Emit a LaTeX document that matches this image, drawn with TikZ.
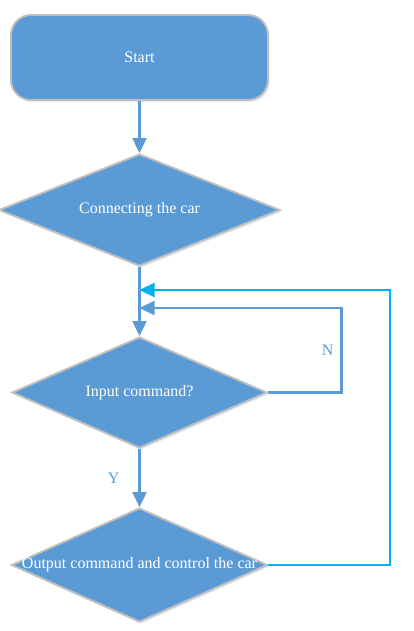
\documentclass[tikz,border=0pt]{standalone}
\usepackage{fontspec}
\setmainfont{Liberation Serif}
\usetikzlibrary{shapes.geometric,arrows.meta,shadows}
\definecolor{boxblue}{HTML}{5B9BD5}
\definecolor{loopcyan}{HTML}{00B0F0}
\definecolor{rimgray}{HTML}{BFBFBF}
\tikzset{
  chart/.style={
    x=1pt,
    y=-1pt,
    every node/.style={
      font=\fontsize{16}{19}\selectfont
    },
  },
  glow/.style={
    drop shadow={shadow xshift=1.5pt, shadow yshift=-2pt, fill=boxblue!25, opacity=.8}
  },
  startbox/.style={
    rectangle, rounded corners=20pt, draw=rimgray, line width=1.9pt, fill=boxblue,
    minimum width=257pt, minimum height=85pt, glow
  },
  decision/.style={
    diamond, draw=rimgray, line width=1.9pt, fill=boxblue, inner sep=0pt, glow
  },
  inside/.style={text=white, inner sep=0pt},
  answer/.style={text=boxblue, inner sep=0pt},
  flow/.style={draw=boxblue, line width=2.2pt, -{Triangle[length=15pt,width=14pt]}},
}

\begin{document}
\begin{tikzpicture}[chart]
\useasboundingbox (0,0) rectangle (413,631);
\node[startbox] (start) at (139.5,57.5) {};
\node[inside] (starttext) at (start) {Start};
\node[decision, minimum width=281pt, minimum height=112pt] (conn) at (139.5,210) {};
\node[inside] (conntext) at (conn) {Connecting the car};
\node[decision, minimum width=255pt, minimum height=111pt] (inp) at (139.5,392.5) {};
\node[inside] (inptext) at (inp) {Input command?};
\node[decision, minimum width=256pt, minimum height=114pt] (outp) at (139.5,565) {};
\node[inside] (outptext) at (outp) {Output command and control the car};
% return points on the main line
\coordinate (nback) at (139.5,308);
\coordinate (loopback) at (139.5,290);
\draw[flow] (start.south) -- (conn.north);
\draw[flow] (conn.south) -- (inp.north);
\draw[flow] (inp.south) -- node[answer, left=19pt] (yes) {Y} (outp.north);
\draw[flow] (inp.east) -- ++(73.5,0) |- node[answer, pos=.25, left=7pt] (no) {N} (nback);
\draw[flow, draw=loopcyan] (outp.east) -- ++(121.5,0) |- (loopback);
\end{tikzpicture}
\end{document}
